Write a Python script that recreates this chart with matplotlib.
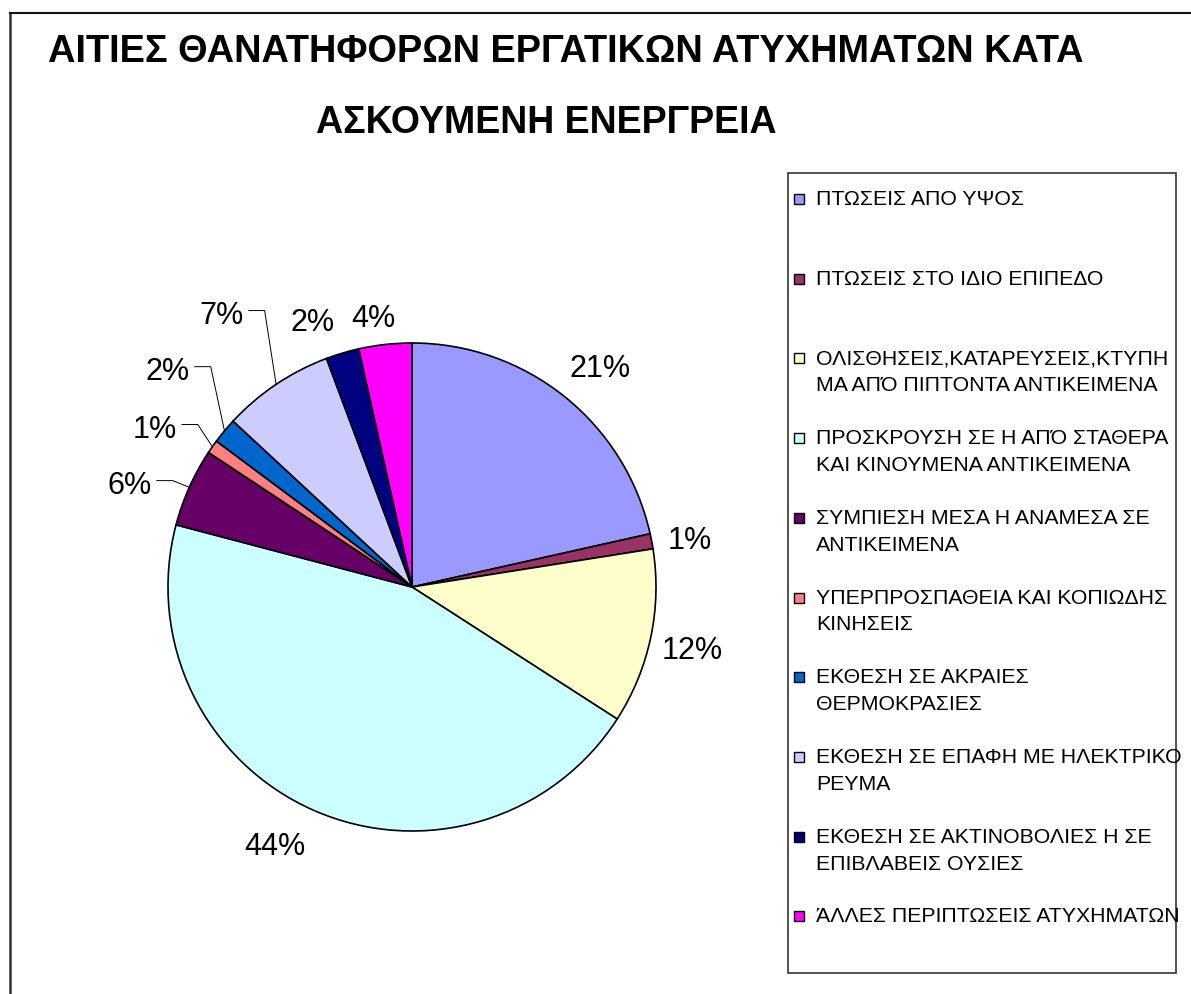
import numpy as np
import matplotlib
matplotlib.use('Agg')
import matplotlib.pyplot as plt
from matplotlib.lines import Line2D
from matplotlib.patches import Rectangle

plt.rcParams['font.family'] = ['Liberation Sans', 'DejaVu Sans']

# Data (share of fatal accidents, %)
categories = [
    'ΠΤΩΣΕΙΣ ΑΠΟ ΥΨΟΣ',
    'ΠΤΩΣΕΙΣ ΣΤΟ ΙΔΙΟ ΕΠΙΠΕΔΟ',
    'ΟΛΙΣΘΗΣΕΙΣ,ΚΑΤΑΡΕΥΣΕΙΣ,ΚΤΥΠΗ\nΜΑ ΑΠΌ ΠΙΠΤΟΝΤΑ ΑΝΤΙΚΕΙΜΕΝΑ',
    'ΠΡΟΣΚΡΟΥΣΗ ΣΕ Η ΑΠΌ ΣΤΑΘΕΡΑ\nΚΑΙ ΚΙΝΟΥΜΕΝΑ ΑΝΤΙΚΕΙΜΕΝΑ',
    'ΣΥΜΠΙΕΣΗ ΜΕΣΑ Η ΑΝΑΜΕΣΑ ΣΕ\nΑΝΤΙΚΕΙΜΕΝΑ',
    'ΥΠΕΡΠΡΟΣΠΑΘΕΙΑ ΚΑΙ ΚΟΠΙΩΔΗΣ\nΚΙΝΗΣΕΙΣ',
    'ΕΚΘΕΣΗ ΣΕ ΑΚΡΑΙΕΣ\nΘΕΡΜΟΚΡΑΣΙΕΣ',
    'ΕΚΘΕΣΗ ΣΕ ΕΠΑΦΗ ΜΕ ΗΛΕΚΤΡΙΚΟ\nΡΕΥΜΑ',
    'ΕΚΘΕΣΗ ΣΕ ΑΚΤΙΝΟΒΟΛΙΕΣ Η ΣΕ\nΕΠΙΒΛΑΒΕΙΣ ΟΥΣΙΕΣ',
    'ΆΛΛΕΣ ΠΕΡΙΠΤΩΣΕΙΣ ΑΤΥΧΗΜΑΤΩΝ',
]
values = [21.5, 1.0, 11.6, 45.0, 5.2, 0.9, 1.7, 7.4, 2.2, 3.5]
pct_labels = ['21%', '1%', '12%', '44%', '6%', '1%', '2%', '7%', '2%', '4%']
colors = ['#9999FF', '#993366', '#FFFFCC', '#CCFFFF', '#660066',
          '#FF8080', '#0066CC', '#CCCCFF', '#000080', '#FF00FF']

# label placement (data units, text baseline) and which ones use a leader line
label_x = [0.770, 1.139, 1.148, -0.561, -1.156, -1.053, -1.000, -0.779, -0.406, -0.160]
label_y = [0.861, 0.156, -0.295, -1.098, 0.381, 0.611, 0.848, 1.078, 1.049, 1.066]
leader = [False, False, False, False, True, True, True, True, False, False]

W, H = 1191, 994
fig = plt.figure(figsize=(W / 100, H / 100), dpi=100)

# outer chart frame (runs off the right/bottom edge)
fig.add_artist(Line2D([10 / W, 10 / W], [0, 1 - 13 / H], color='#333333', lw=1.8))
fig.add_artist(Line2D([10 / W, 1], [1 - 13 / H, 1 - 13 / H], color='#111111', lw=1.5))

# title
fig.text(48 / W, 1 - 62 / H, 'ΑΙΤΙΕΣ ΘΑΝΑΤΗΦΟΡΩΝ ΕΡΓΑΤΙΚΩΝ ΑΤΥΧΗΜΑΤΩΝ ΚΑΤΑ',
         fontsize=27.4, fontweight='bold', ha='left', va='baseline')
fig.text(316 / W, 1 - 133 / H, 'ΑΣΚΟΥΜΕΝΗ ΕΝΕΡΓΡΕΙΑ',
         fontsize=27.0, fontweight='bold', ha='left', va='baseline')

# pie
cx, cy, r = 412, 587, 244
ax = fig.add_axes([(cx - r) / W, (H - cy - r) / H, 2 * r / W, 2 * r / H])
wedges, _ = ax.pie(values, colors=colors, startangle=90, counterclock=False,
                   radius=1, wedgeprops=dict(edgecolor='black', linewidth=1.2))
ax.set_xlim(-1, 1)
ax.set_ylim(-1, 1)
ax.axis('off')

for i, w in enumerate(wedges):
    ax.text(label_x[i], label_y[i], pct_labels[i], fontsize=22,
            ha='center', va='baseline', clip_on=False)
    if leader[i]:
        mid = np.deg2rad((w.theta1 + w.theta2) / 2)
        ly = label_y[i] + 0.055
        ax.plot([label_x[i] + 0.11, label_x[i] + 0.175, np.cos(mid)],
                [ly, ly, np.sin(mid)], color='black', lw=0.7, clip_on=False)

# legend box
fig.add_artist(Rectangle((788 / W, 1 - 973 / H), (1176 - 788) / W, (973 - 173) / H,
                         transform=fig.transFigure, fill=False,
                         edgecolor='#333333', lw=1.2))
for i, lab in enumerate(categories):
    base = 205 + 79.7 * i
    fig.add_artist(Rectangle((794 / W, 1 - (base - 1) / H), 10 / W, 10 / H,
                             transform=fig.transFigure, facecolor=colors[i],
                             edgecolor='black', lw=1.0))
    for j, line in enumerate(lab.split('\n')):
        fig.text(816 / W, 1 - (base + 27 * j) / H, line, fontsize=15.3,
                 ha='left', va='baseline')

fig.savefig('out.png', dpi=100)
